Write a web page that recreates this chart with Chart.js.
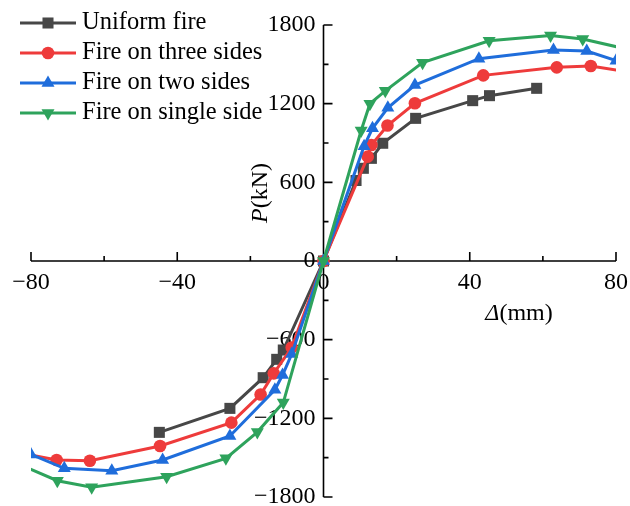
<!DOCTYPE html>
<html>
<head>
<meta charset="utf-8">
<script src="https://cdn.jsdelivr.net/npm/chart.js@4/dist/chart.umd.min.js"></script>
<style>
  body { margin: 0; background: #fff; }
  #wrap { width: 630px; height: 506px; }
</style>
</head>
<body>
<div id="wrap"><canvas id="lineChart" width="630" height="506"></canvas></div>
<script>
// data (displacement mm, load kN)
const uniformX = [-44.9, -25.6, -16.5, -12.8, -11.0, 0, 8.9, 10.9, 13.1, 16.2, 25.2, 40.8, 45.4, 58.3];
const uniformY = [-1307, -1124, -890, -750, -679, 0, 614, 707, 783, 898, 1088, 1223, 1261, 1317];

const threeX = [-88, -73.0, -63.9, -44.7, -25.2, -17.2, -13.6, -8.7, 0, 12.1, 13.1, 17.5, 25.0, 43.7, 63.8, 73.1, 88];
const threeY = [-1437, -1518, -1523, -1411, -1233, -1018, -857, -660, 0, 796, 885, 1033, 1203, 1416, 1477, 1487, 1422];

const twoX = [-80, -70.9, -57.9, -44.0, -25.6, -13.3, -11.2, -8.7, 0, 11.1, 13.4, 17.6, 25.0, 42.5, 62.9, 72.0, 80];
const twoY = [-1475, -1581, -1600, -1518, -1335, -982, -870, -710, 0, 876, 1012, 1168, 1342, 1543, 1609, 1602, 1528];

const singleX = [-88, -72.8, -63.4, -42.9, -26.7, -18.1, -11.0, 0, 10.3, 12.7, 16.9, 27.1, 45.3, 62.1, 70.9, 88];
const singleY = [-1492, -1676, -1726, -1645, -1505, -1305, -1080, 0, 995, 1200, 1298, 1513, 1680, 1719, 1693, 1584];

const seriesNames = ['Uniform fire', 'Fire on three sides', 'Fire on two sides', 'Fire on single side'];

const xTicks = [-80, -40, 0, 40, 80];
const xMinor = [-60, -20, 20, 60];
const yTicks = [-1800, -1200, -600, 0, 600, 1200, 1800];
const yMinor = [-1500, -900, -300, 300, 900, 1500];

const FONT = '"Liberation Serif", "Times New Roman", serif';

function punti(xs, ys) {
    return xs.map((v, i) => ({ x: v, y: ys[i] }));
}

function serie(nome, xs, ys, colore, stile, raggio, rot, ordine) {
    return {
        label: nome,
        data: punti(xs, ys),
        borderColor: colore,
        backgroundColor: colore,
        borderWidth: 3,
        pointStyle: stile,
        pointRotation: rot,
        pointRadius: raggio,
        pointBorderWidth: 0,
        pointBackgroundColor: colore,
        tension: 0,
        fill: false,
        order: ordine
    };
}

function meno(n) {
    return n < 0 ? '\u2212' + Math.abs(n) : String(n);
}

// scrive testo "corsivo + normale" centrato in cx
function titolo(ctx, corsivo, resto, cx, cy) {
    ctx.font = 'italic 24px ' + FONT;
    const w1 = ctx.measureText(corsivo).width;
    ctx.font = '24px ' + FONT;
    const w2 = ctx.measureText(resto).width;
    const sx = cx - (w1 + w2) / 2;
    ctx.textAlign = 'left';
    ctx.font = 'italic 24px ' + FONT;
    ctx.fillText(corsivo, sx, cy);
    ctx.font = '24px ' + FONT;
    ctx.fillText(resto, sx + w1, cy);
}

// assi centrati, etichette, titoli
const assiPlugin = {
    id: 'assi',
    beforeDatasetsDraw(chart) {
        const { ctx } = chart;
        const x = chart.scales.x, y = chart.scales.y;
        const x0 = x.getPixelForValue(0), y0 = y.getPixelForValue(0);
        ctx.save();
        ctx.strokeStyle = '#000';
        ctx.lineWidth = 1.6;
        ctx.beginPath();
        ctx.moveTo(x.left, y0); ctx.lineTo(x.right, y0);
        ctx.moveTo(x0, y.top); ctx.lineTo(x0, y.bottom);
        xTicks.forEach(v => { const p = x.getPixelForValue(v); ctx.moveTo(p, y0); ctx.lineTo(p, y0 - 9); });
        xMinor.forEach(v => { const p = x.getPixelForValue(v); ctx.moveTo(p, y0); ctx.lineTo(p, y0 - 5); });
        yTicks.forEach(v => { const p = y.getPixelForValue(v); ctx.moveTo(x0, p); ctx.lineTo(x0 + 9, p); });
        yMinor.forEach(v => { const p = y.getPixelForValue(v); ctx.moveTo(x0, p); ctx.lineTo(x0 + 5, p); });
        ctx.stroke();

        ctx.fillStyle = '#000';
        ctx.font = '24px ' + FONT;
        ctx.textAlign = 'center';
        ctx.textBaseline = 'middle';
        xTicks.forEach(v => ctx.fillText(meno(v), x.getPixelForValue(v), y0 + 22));
        ctx.textAlign = 'right';
        yTicks.forEach(v => ctx.fillText(meno(v), x0 - 8, y.getPixelForValue(v)));

        titolo(ctx, '\u0394', '(mm)', 519, 314);

        ctx.translate(261, 193);
        ctx.rotate(-Math.PI / 2);
        titolo(ctx, 'P', '(kN)', 0, 0);
        ctx.restore();
    }
};

// legenda con linea + marcatore
const legendaPlugin = {
    id: 'legenda',
    afterDatasetsDraw(chart) {
        const c = chart.ctx;
        c.save();
        chart.data.datasets.forEach((ds, i) => {
            const yy = 23 + i * 30;
            c.strokeStyle = ds.borderColor;
            c.lineWidth = ds.borderWidth;
            c.beginPath();
            c.moveTo(20, yy); c.lineTo(76, yy);
            c.stroke();
            c.fillStyle = ds.borderColor;
            Chart.helpers.drawPoint(c, {
                pointStyle: ds.pointStyle,
                rotation: ds.pointRotation,
                radius: ds.pointRadius,
                borderWidth: 0
            }, 48, yy);
            c.fillStyle = '#000';
            c.font = '24.5px ' + FONT;
            c.textAlign = 'left';
            c.textBaseline = 'middle';
            c.fillText(ds.label, 82, yy);
        });
        c.restore();
    }
};

const ctx = document.getElementById('lineChart').getContext('2d');
const datasets = [
    serie(seriesNames[0], uniformX, uniformY, '#474747', 'rect', 7.8, 0, 3),
    serie(seriesNames[1], threeX, threeY, '#ee3b3b', 'circle', 6.3, 0, 2),
    serie(seriesNames[2], twoX, twoY, '#1f6ddb', 'triangle', 7.5, 0, 1),
    serie(seriesNames[3], singleX, singleY, '#2ea35c', 'triangle', 7.5, 180, 0)
];

const myChart = new Chart(ctx, {
    type: 'line',
    data: { datasets: datasets },
    options: {
        responsive: false,
        animation: false,
        devicePixelRatio: 1,
        layout: { padding: { left: 31, right: 14, top: 25, bottom: 9 } },
        plugins: { legend: { display: false }, tooltip: { enabled: false } },
        scales: {
            x: { type: 'linear', min: -80, max: 80, display: false },
            y: { type: 'linear', min: -1800, max: 1800, display: false }
        }
    },
    plugins: [assiPlugin, legendaPlugin]
});
</script>
</body>
</html>
